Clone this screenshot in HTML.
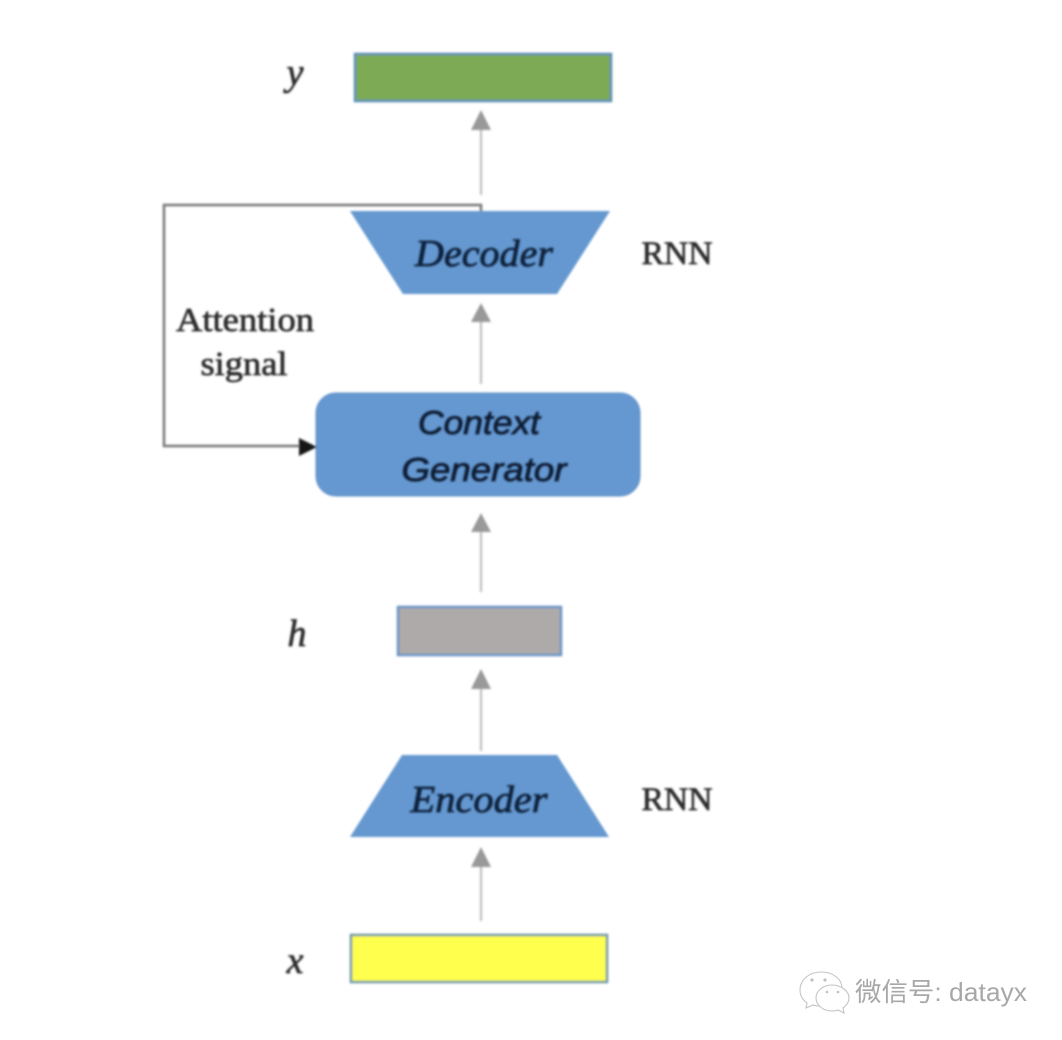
<!DOCTYPE html>
<html>
<head>
<meta charset="utf-8">
<style>
html,body{margin:0;padding:0;background:#fff;}
svg{display:block;}
.s{font-family:"Liberation Serif",serif;fill:#2c2c2c;stroke:#2c2c2c;stroke-width:.7;}
.d{fill:#10243c;stroke:#10243c;stroke-width:.8;}
.b{font-family:"Liberation Sans",sans-serif;font-style:italic;fill:#0c1e34;stroke:#0c1e34;stroke-width:.8;}
</style>
</head>
<body>
<svg width="1062" height="1040" viewBox="0 0 1062 1040" xmlns="http://www.w3.org/2000/svg">
<defs>
<filter id="bl" x="-5%" y="-5%" width="110%" height="110%"><feGaussianBlur stdDeviation="1"/></filter>
<filter id="tb" x="-5%" y="-5%" width="110%" height="110%"><feGaussianBlur stdDeviation="1.1"/></filter>
</defs>
<rect width="1062" height="1040" fill="#fff"/>
<g filter="url(#bl)">
<rect x="355" y="54" width="256" height="47" fill="#7dab55" stroke="#5f8fb8" stroke-width="2.5"/>
<rect x="398" y="607" width="163" height="48" fill="#aeaaaa" stroke="#6a94c4" stroke-width="2.5"/>
<rect x="351" y="935" width="256" height="47" fill="#ffff4d" stroke="#6f96a8" stroke-width="2.5"/>
<polygon points="350,211 610,211 557,294 403,294" fill="#6598d0"/>
<polygon points="350,837 609,837 557,755 402,755" fill="#6598d0"/>
<rect x="316" y="393" width="324" height="103" rx="20" ry="20" fill="#6598d0" stroke="#5f90c8" stroke-width="1"/>
<polyline points="481,211 481,205 164,205 164,446 302,446" fill="none" stroke="#777" stroke-width="2.5"/>
<polygon points="299,438 299,456 317,447" fill="#151515"/>
<g stroke="#bdbdbd" stroke-width="2.2" fill="none">
<line x1="481" y1="130" x2="481" y2="195"/>
<line x1="481" y1="322" x2="481" y2="384"/>
<line x1="481" y1="532" x2="481" y2="592"/>
<line x1="481" y1="688" x2="481" y2="751"/>
<line x1="481" y1="866" x2="481" y2="921"/>
</g>
<g fill="#999">
<polygon points="481,110 471,130 491,130"/>
<polygon points="481,303 471,322 491,322"/>
<polygon points="481,513 471,532 491,532"/>
<polygon points="481,669 471,689 491,689"/>
<polygon points="481,847 471,867 491,867"/>
</g>
</g>
<g filter="url(#tb)">
<text class="s" x="295" y="85" font-size="38" font-style="italic" text-anchor="middle">y</text>
<text class="s" x="297" y="646" font-size="38" font-style="italic" text-anchor="middle">h</text>
<text class="s" x="295" y="973" font-size="38" font-style="italic" text-anchor="middle">x</text>
<text class="s" x="677" y="264" font-size="33" text-anchor="middle" textLength="71" lengthAdjust="spacingAndGlyphs">RNN</text>
<text class="s" x="677" y="810" font-size="33" text-anchor="middle" textLength="71" lengthAdjust="spacingAndGlyphs">RNN</text>
<text class="s" x="245" y="331" font-size="34" text-anchor="middle" textLength="138" lengthAdjust="spacingAndGlyphs">Attention</text>
<text class="s" x="244" y="375" font-size="34" text-anchor="middle" textLength="87" lengthAdjust="spacingAndGlyphs">signal</text>
<text class="s d" x="484" y="266" font-size="38" font-style="italic" text-anchor="middle" textLength="138" lengthAdjust="spacingAndGlyphs">Decoder</text>
<text class="s d" x="479" y="812" font-size="38" font-style="italic" text-anchor="middle" textLength="137" lengthAdjust="spacingAndGlyphs">Encoder</text>
<text class="b" x="479" y="434" font-size="33" text-anchor="middle" textLength="122" lengthAdjust="spacingAndGlyphs">Context</text>
<text class="b" x="484" y="481" font-size="33" text-anchor="middle" textLength="165" lengthAdjust="spacingAndGlyphs">Generator</text>
</g>
<g fill="#fff" stroke="#c4c4c4" stroke-width="1.1">
<path d="M821,972 c-12,0 -21,8 -21,18 c0,6 3,10 7,13 l-1,5 l7,-3 c3,1 5,1 8,1 c11,0 21,-8 21,-18 c0,-9 -9,-16 -21,-16 z"/>
<path d="M832,985 c-9,0 -16,6 -16,13 c0,7 7,13 16,13 c2,0 4,0 6,-1 l6,3 l-1,-5 c4,-3 6,-6 6,-10 c0,-7 -8,-13 -17,-13 z"/>
</g>
<g fill="#c0c0c0">
<circle cx="812" cy="980" r="1.6"/><circle cx="825" cy="980" r="1.6"/>
<circle cx="827" cy="992" r="1.3"/><circle cx="838" cy="992" r="1.3"/>
</g>
<text x="855" y="1001" font-size="26" fill="#a8a8a8" font-family="'Liberation Sans','Noto Sans CJK SC',sans-serif" textLength="172" lengthAdjust="spacingAndGlyphs">微信号: datayx</text>
</svg>
</body>
</html>
